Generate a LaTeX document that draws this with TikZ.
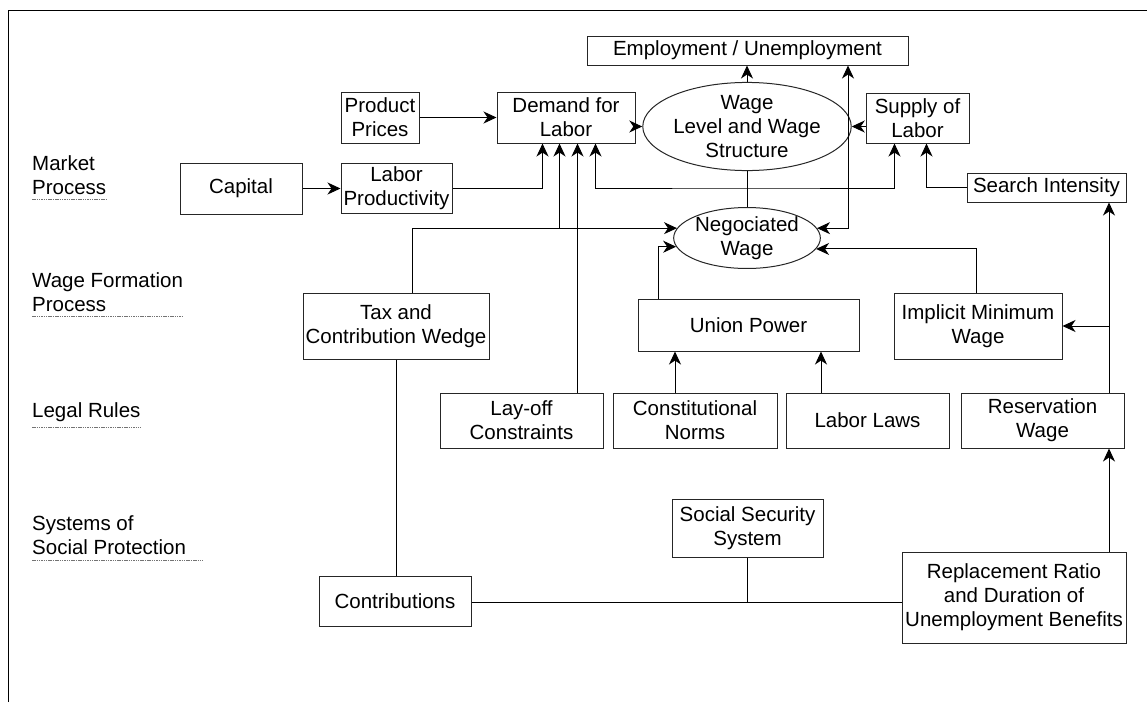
\documentclass[tikz,border=0pt]{standalone}
\usepackage{fontspec}
\setmainfont{Liberation Sans}
\usetikzlibrary{arrows.meta,shapes.geometric,calc}
\begin{document}
\begin{tikzpicture}[x=1pt,y=-1pt,
  font=\fontsize{20.5}{24}\selectfont,
  box/.style={draw=black!85,line width=1pt,align=center,inner sep=0pt},
  oval/.style={draw=black!85,line width=1pt,ellipse,align=center,inner sep=0pt},
  lab/.style={align=left,inner sep=0pt,anchor=west},
  uline/.style={draw=black!55,line width=0.5pt,dash pattern=on 1.5pt off 0.8pt},
  conn/.style={draw=black,line width=1pt},
  arr/.style={conn,-{Stealth[length=13pt,width=12pt,inset=4pt]}},
  arrs/.style={conn,{Stealth[length=13pt,width=12pt,inset=4pt]}-{Stealth[length=13pt,width=12pt,inset=4pt]}}]
\useasboundingbox (0,0) rectangle (1147,702);
\draw[line width=1pt] (8,702) -- (8,10) -- (1147,10);

% row labels
\node[lab] (mp) at (32,175) {Market\\Process};
\node[lab] (wf) at (32,292) {Wage Formation\\Process};
\node[lab] (lr) at (32,412) {Legal Rules};
\node[lab] (sp) at (32,535.5) {Systems of\\Social Protection};
\draw[uline] ([yshift=-5pt]mp.south west) -- ([yshift=-5pt]mp.south east);
\draw[uline] ([yshift=-5pt]wf.south west) -- ([yshift=-5pt]wf.south east);
\draw[uline] ([yshift=-5pt]lr.south west) -- ([yshift=-5pt]lr.south east);
\draw[uline] ([yshift=-5pt]sp.south west) -- ([yshift=-5pt,xshift=16pt]sp.south east);

% nodes
\node[box,minimum width=78pt,minimum height=51pt] (prices) at (380,117.5) {Product\\Prices};
\node[box,minimum width=122pt,minimum height=51pt] (capital) at (241,188.5) {Capital};
\node[box,minimum width=111pt,minimum height=50pt] (labprod) at (396.5,188) {Labor\\Productivity};
\node[box,minimum width=321pt,minimum height=29pt] (employ) at (747.5,50.5) {Employment / Unemployment};
\node[box,minimum width=138pt,minimum height=51pt] (demand) at (566,117.5) {Demand for\\Labor};
\node[oval,minimum width=160pt,minimum height=79pt] (wage) at (747,126.5) {Wage\\Level and Wage\\Structure};
\node[box,minimum width=103pt,minimum height=50pt] (supply) at (917.5,118) {Supply of\\Labor};
\node[box,minimum width=159pt,minimum height=29pt] (search) at (1046.5,187.5) {Search Intensity};
\node[oval,minimum width=130pt,minimum height=60pt] (negwage) at (747,238) {Negociated\\Wage};
\node[box,minimum width=186pt,minimum height=66pt] (tax) at (396,326) {Tax and\\Contribution Wedge};
\node[box,minimum width=221pt,minimum height=52pt] (union) at (748.5,325) {Union Power};
\node[box,minimum width=168pt,minimum height=66pt] (imw) at (978,326) {Implicit Minimum\\Wage};
\node[box,minimum width=163pt,minimum height=55pt] (layoff) at (521.5,420.5) {Lay-off\\Constraints};
\node[box,minimum width=164pt,minimum height=55pt] (constit) at (695,420.5) {Constitutional\\Norms};
\node[box,minimum width=163pt,minimum height=55pt] (laws) at (867.5,420.5) {Labor Laws};
\node[box,minimum width=163pt,minimum height=55pt] (reserv) at (1042.5,420.5) {Reservation\\Wage};
\node[box,minimum width=151pt,minimum height=58pt] (social) at (747.5,528) {Social Security\\System};
\node[box,minimum width=152pt,minimum height=50pt] (contrib) at (395,601) {Contributions};
\node[box,minimum width=224pt,minimum height=91pt] (replace) at (1014,597.5) {Replacement Ratio\\and Duration of\\Unemployment Benefits};

% connectors
\draw[arr] (prices.east) -- (demand.west);
\draw[arr] (capital.east) -- (capital.east -| labprod.west);
\draw[arr] (labprod.east) -| ([xshift=46pt]demand.south west);
\draw[arr] (demand.east |- wage.west) -- (wage.west);
\draw[arr] (supply.west |- wage.east) -- (wage.east);
\draw[arr] (wage.north) -- (wage.north |- employ.south);
\draw[conn] (wage.south) -- (negwage.north);
\coordinate (j1) at ($(wage.south)!0.5!(negwage.north)$);
\draw[arrs] ([xshift=99pt]demand.south west) |- (j1 |- labprod.east) -| ([xshift=29pt]supply.south west);
\draw[arr] (search.west) -| ([xshift=61pt]supply.south west);
\draw[arr] ([xshift=16pt]tax.north) |- (negwage.172);
\draw[arr] ([xshift=63pt]demand.south west |- negwage.172) -- ([xshift=63pt]demand.south west);
\draw[arr] ([xshift=81pt]demand.south west |- layoff.north) -- ([xshift=81pt]demand.south west);
\draw[arr] ([xshift=21pt]union.north west) |- (negwage.187);
\draw[arr] ([xshift=-2pt]imw.north) |- (negwage.-9);
\draw[arrs] (negwage.8) -| ([xshift=100.5pt]employ.south);
\draw[arr] ([xshift=-20pt]constit.north) -- ([xshift=-20pt]constit.north |- union.south);
\draw[arr] ([xshift=-46.5pt]laws.north) -- ([xshift=-46.5pt]laws.north |- union.south);
\draw[arr] ([xshift=66.5pt]reserv.north) -- ([xshift=66.5pt]reserv.north |- search.south);
\draw[arr] ([xshift=66.5pt]reserv.north |- imw.east) -- (imw.east);
\draw[arr] ([xshift=95pt]replace.north) -- ([xshift=95pt]replace.north |- reserv.south);
\draw[conn] (tax.south) -- (tax.south |- contrib.north);
\draw[conn] ([yshift=-1pt]contrib.east) -- ([yshift=-1pt]contrib.east -| replace.west);
\draw[conn] (social.south) -- ([yshift=-1pt]social.south |- contrib.east);
\end{tikzpicture}
\end{document}
